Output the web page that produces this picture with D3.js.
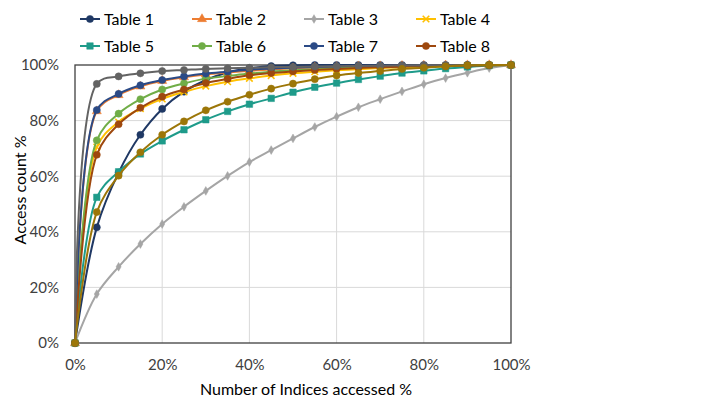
<!DOCTYPE html>
<html><head><meta charset="utf-8">
<script src="https://cdn.jsdelivr.net/npm/d3@7"></script>
<style>body{margin:0;background:#fff;}svg{display:block;font-family:Lato,"Open Sans",sans-serif;}</style>
</head><body>
<svg id="c" width="718" height="400"></svg>
<script>
const xValues = [0,5,10,15,20,25,30,35,40,45,50,55,60,65,70,75,80,85,90,95,100];
const seriesNames = ["Table 1","Table 2","Table 3","Table 4","Table 5","Table 6","Table 7","Table 8","Table 9","Table 10"];
const legendNames = ["Table 1","Table 2","Table 3","Table 4","Table 5","Table 6","Table 7","Table 8"];
const table1 = [0,41.6,61.3,74.9,84.2,90.4,94.6,97.3,98.8,99.6,99.9,100,100,100,100,100,100,100,100,100,100];
const table2 = [0,83.4,89.2,92.3,94.3,95.6,96.6,97.3,97.9,98.4,98.8,99.1,99.3,99.5,99.6,99.7,99.8,99.9,99.95,99.98,100];
const table3 = [0,17.6,27.4,35.6,42.8,49.0,54.7,60.1,65.1,69.4,73.6,77.7,81.4,84.8,87.7,90.5,93.1,95.3,97.2,98.9,100];
const table4 = [0,70.5,79.5,84.3,87.8,90.3,92.4,94.0,95.2,96.2,97.0,97.6,98.1,98.5,98.9,99.2,99.4,99.6,99.8,99.9,100];
const table5 = [0,52.4,61.6,68.0,72.7,76.7,80.3,83.3,85.9,88.0,90.2,92.0,93.5,94.8,96.0,97.1,97.9,98.7,99.3,99.8,100];
const table6 = [0,72.9,82.5,87.7,91.2,93.4,95.1,96.0,96.9,97.6,98.1,98.5,98.9,99.2,99.4,99.6,99.7,99.8,99.9,99.95,100];
const table7 = [0,83.8,89.6,92.7,94.6,95.9,96.9,97.6,98.3,98.7,99.0,99.3,99.5,99.6,99.7,99.8,99.85,99.9,99.95,99.98,100];
const table8 = [0,67.7,78.7,84.6,88.6,91.2,93.5,95.0,96.3,97.1,97.7,98.2,98.6,98.9,99.2,99.4,99.6,99.7,99.8,99.9,100];
const table9 = [0,93.2,95.9,97.0,97.8,98.2,98.6,98.8,99.0,99.2,99.3,99.45,99.55,99.65,99.75,99.8,99.85,99.9,99.95,99.98,100];
const table10 = [0,47.1,60.2,68.6,74.9,79.7,83.7,86.8,89.3,91.5,93.3,94.9,96.2,97.1,97.8,98.6,99.0,99.5,99.9,100,100];
const seriesValues = [table1,table2,table3,table4,table5,table6,table7,table8,table9,table10];
const colors = ["#1F3864","#ED7D31","#A5A5A5","#FFC000","#1E9B8A","#70AD47","#2B4A86","#9E480E","#636363","#9C7608"];
const markers = ["circle","triangle","diamond","star","square","circle","circle","circle","circle","circle"];
const xTicks = [0,20,40,60,80,100];
const yTicks = [0,20,40,60,80,100];

const svg = d3.select("#c");
const L=75,R=511,T=65,B=343;
const x = d3.scaleLinear().domain([0,100]).range([L,R]);
const y = d3.scaleLinear().domain([0,100]).range([B,T]);

// gridlines
svg.append("g").selectAll("line.h").data(yTicks.slice(1,-1)).join("line")
  .attr("x1",L).attr("x2",R).attr("y1",d=>y(d)).attr("y2",d=>y(d))
  .attr("stroke","#D9D9D9").attr("stroke-width",1);
svg.append("g").selectAll("line.v").data(xTicks.slice(1,-1)).join("line")
  .attr("y1",T).attr("y2",B).attr("x1",d=>x(d)).attr("x2",d=>x(d))
  .attr("stroke","#D9D9D9").attr("stroke-width",1);

// axes
const fmt = d=>d+"%";
const xAxis = svg.append("g").attr("transform",`translate(0,${B})`)
  .call(d3.axisBottom(x).tickValues(xTicks).tickFormat(fmt).tickSize(0).tickPadding(16));
const yAxis = svg.append("g").attr("transform",`translate(${L},0)`)
  .call(d3.axisLeft(y).tickValues(yTicks).tickFormat(fmt).tickSize(0).tickPadding(16));
[xAxis,yAxis].forEach(a=>{a.select(".domain").remove();
  a.selectAll("text").attr("font-family","Lato, 'Open Sans', sans-serif").attr("font-size",15).attr("fill","#404040");});

// plot border
svg.append("rect").attr("x",L).attr("y",T).attr("width",R-L).attr("height",B-T)
  .attr("fill","none").attr("stroke","#404040").attr("stroke-width",1.3);

// lines
const line = d3.line().x((d,i)=>x(xValues[i])).y(d=>y(d)).curve(d3.curveCatmullRom);
const sym = {circle:d3.symbolCircle,triangle:d3.symbolTriangle,diamond:d3.symbolDiamond,square:d3.symbolSquare,star:d3.symbolTimes};
const size = {circle:40,triangle:36,diamond:22,square:42,star:30};
seriesValues.forEach((vals,si)=>{
  const g = svg.append("g");
  g.append("path").attr("d",line(vals)).attr("fill","none")
    .attr("stroke",colors[si]).attr("stroke-width",2);
  const m = markers[si];
  g.selectAll("path.m").data(vals).join("path")
    .attr("transform",(d,i)=>`translate(${x(xValues[i])},${y(d)})`)
    .attr("d",d3.symbol().type(sym[m]).size(size[m]))
    .attr("fill",m==="star"?"none":colors[si])
    .attr("stroke",colors[si]).attr("stroke-width",m==="star"?1.6:0.5);
});

// axis titles
svg.append("text").attr("x",306).attr("y",395).attr("text-anchor","middle")
  .attr("font-size",16).attr("fill","#000").text("Number of Indices accessed %");
svg.append("text").attr("transform","translate(26,190) rotate(-90)").attr("text-anchor","middle")
  .attr("font-size",16).attr("fill","#000").text("Access count %");

// legend
const legend = svg.append("g");
legendNames.forEach((name,i)=>{
  const col=i%4,row=Math.floor(i/4);
  const lx=[80,192,304,416][col], ly=[19,46][row];
  const idx=seriesNames.indexOf(name), m=markers[idx];
  legend.append("line").attr("x1",lx).attr("x2",lx+20).attr("y1",ly).attr("y2",ly)
    .attr("stroke",colors[idx]).attr("stroke-width",2);
  legend.append("path").attr("transform",`translate(${lx+10},${ly})`)
    .attr("d",d3.symbol().type(sym[m]).size(size[m]))
    .attr("fill",m==="star"?"none":colors[idx]).attr("stroke",colors[idx]).attr("stroke-width",m==="star"?1.6:0.5);
  legend.append("text").attr("x",lx+24).attr("y",ly+5.5).attr("font-size",16).attr("fill","#000").text(name);
});
</script>
</body></html>
